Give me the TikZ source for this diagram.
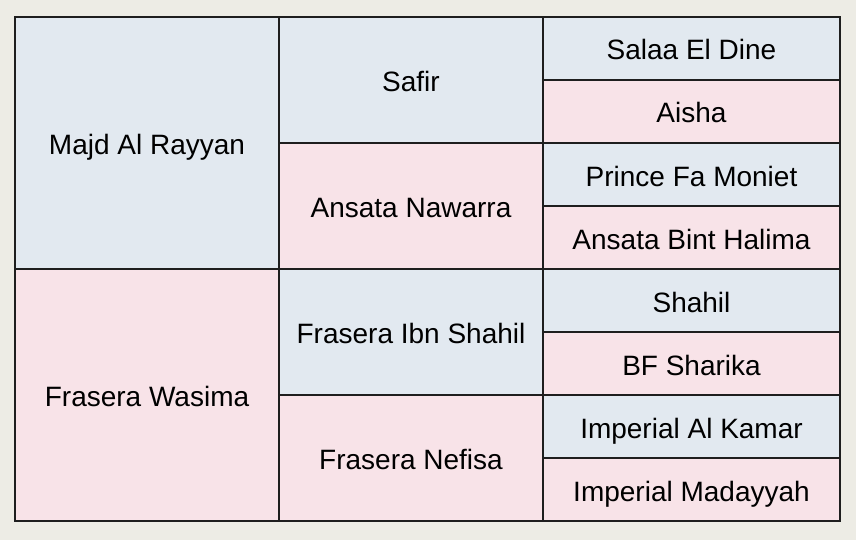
\documentclass[tikz,border=0pt]{standalone}
\usepackage{fontspec}
\setmainfont{Liberation Sans}
\usetikzlibrary{positioning}

\definecolor{bgcream}{HTML}{EDECE5}
\definecolor{sireblue}{HTML}{E2E9F0}
\definecolor{dampink}{HTML}{F8E3E8}
\definecolor{gridline}{HTML}{1E1E1E}

\begin{document}
\begin{tikzpicture}[x=1pt, y=1pt, node distance=0pt]
	\tikzstyle{cell} = [draw=gridline, line width=1.5pt, rectangle, inner sep=0pt, outer sep=0pt, text height=23pt, text depth=0pt, font=\fontsize{28}{32}\selectfont]
	\tikzstyle{sire} = [cell, fill=sireblue]
	\tikzstyle{dam} = [cell, fill=dampink]
	\tikzstyle{gen1} = [minimum width=264pt, minimum height=252pt]
	\tikzstyle{gen2} = [minimum width=264pt, minimum height=126pt]
	\tikzstyle{gen3} = [minimum width=297pt, minimum height=63pt]

	\fill[bgcream] (0,0) rectangle (856,-540);
	\useasboundingbox (0,0) rectangle (856,-540);

	% parents
	\node[sire, gen1, anchor=north west] (majd) at (15,-17) {Majd Al Rayyan};
	\node[dam, gen1, below=of majd] (wasima) {Frasera Wasima};

	% grandparents
	\node[sire, gen2, anchor=north west] (safir) at (majd.north east) {Safir};
	\node[dam, gen2, below=of safir] (nawarra) {Ansata Nawarra};
	\node[sire, gen2, below=of nawarra] (ibnshahil) {Frasera Ibn Shahil};
	\node[dam, gen2, below=of ibnshahil] (nefisa) {Frasera Nefisa};

	% great-grandparents
	\node[sire, gen3, anchor=north west] (salaa) at (safir.north east) {Salaa El Dine};
	\node[dam, gen3, below=of salaa] (aisha) {Aisha};
	\node[sire, gen3, below=of aisha] (moniet) {Prince Fa Moniet};
	\node[dam, gen3, below=of moniet] (halima) {Ansata Bint Halima};
	\node[sire, gen3, below=of halima] (shahil) {Shahil};
	\node[dam, gen3, below=of shahil] (sharika) {BF Sharika};
	\node[sire, gen3, below=of sharika] (kamar) {Imperial Al Kamar};
	\node[dam, gen3, below=of kamar] (madayyah) {Imperial Madayyah};
\end{tikzpicture}
\end{document}
